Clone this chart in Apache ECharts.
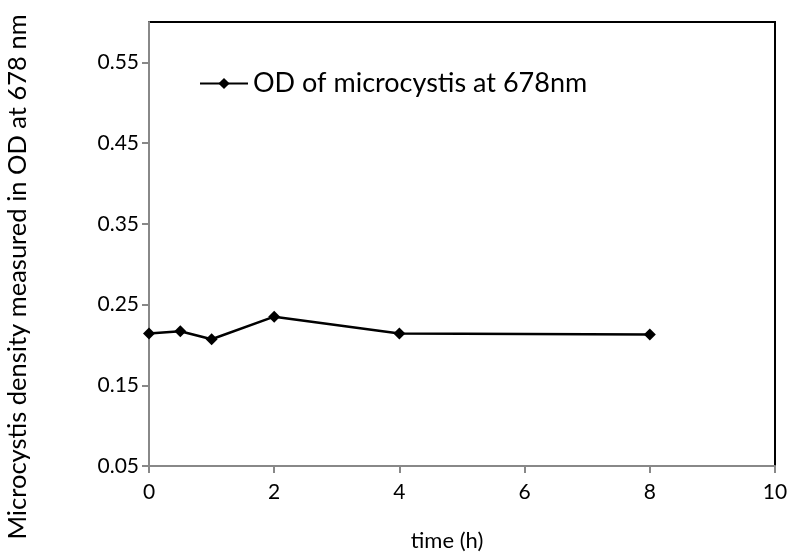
<!DOCTYPE html>
<html>
<head>
<meta charset="utf-8">
<script src="https://cdn.jsdelivr.net/npm/echarts@6/dist/echarts.min.js"></script>
<style>
  html, body { margin: 0; padding: 0; background: #fff; }
  #chart { width: 790px; height: 559px; }
</style>
</head>
<body>
<div id="chart"></div>
<script>
// time (h) and OD readings
var times = [0, 0.5, 1, 2, 4, 8];
var odValues = [0.214, 0.217, 0.207, 0.235, 0.214, 0.213];
var yTicks = [0.05, 0.15, 0.25, 0.35, 0.45, 0.55];
var xTicks = [0, 2, 4, 6, 8, 10];

var font = 'Lato, "Open Sans", sans-serif';
var axisGray = '#888888';

var myChart = echarts.init(document.getElementById('chart'));

var option = {
    animation: false,
    grid: {
        left: 149, right: 15, top: 22, bottom: 93,
        outerBoundsMode: 'none',
        containLabel: false,
        show: true,
        borderColor: '#000',
        borderWidth: 2,
        backgroundColor: '#fff'
    },
    legend: {
        left: 199,
        top: 70,
        padding: 0,
        itemWidth: 48,
        itemHeight: 14,
        textStyle: { fontFamily: font, fontSize: 27, color: '#000' },
        data: ['OD of microcystis at 678nm']
    },
    xAxis: {
        type: 'value',
        min: xTicks[0],
        max: xTicks[xTicks.length - 1],
        interval: 2,
        name: 'time (h)',
        nameLocation: 'middle',
        nameGap: 64,
        nameTextStyle: { fontFamily: font, fontSize: 22, color: '#000', padding: [0, 30, 0, 0] },
        axisLine: { lineStyle: { color: axisGray, width: 2 } },
        axisTick: { show: true, length: 7, lineStyle: { color: axisGray, width: 2 } },
        axisLabel: { fontFamily: font, fontSize: 21, color: '#000', margin: 16 },
        splitLine: { show: false }
    },
    yAxis: {
        type: 'value',
        min: 0.05,
        max: 0.6,
        name: 'Microcystis density measured in OD at 678 nm',
        nameLocation: 'middle',
        nameGap: 118,
        nameTextStyle: { fontFamily: font, fontSize: 25.5, color: '#000', padding: [0, 66, 0, 0] },
        axisLine: { lineStyle: { color: axisGray, width: 2 } },
        axisTick: { show: true, length: 7, customValues: yTicks, lineStyle: { color: axisGray, width: 2 } },
        axisLabel: {
            fontFamily: font, fontSize: 21, color: '#000', margin: 10,
            customValues: yTicks,
            formatter: function (v) { return v.toFixed(2); }
        },
        splitLine: { show: false }
    },
    series: [
        {
            name: 'OD of microcystis at 678nm',
            type: 'line',
            data: times.map(function (t, i) { return [t, odValues[i]]; }),
            symbol: 'diamond',
            symbolSize: 12,
            itemStyle: { color: '#000' },
            lineStyle: { color: '#000', width: 2.5 }
        }
    ]
};

myChart.setOption(option);
</script>
</body>
</html>
